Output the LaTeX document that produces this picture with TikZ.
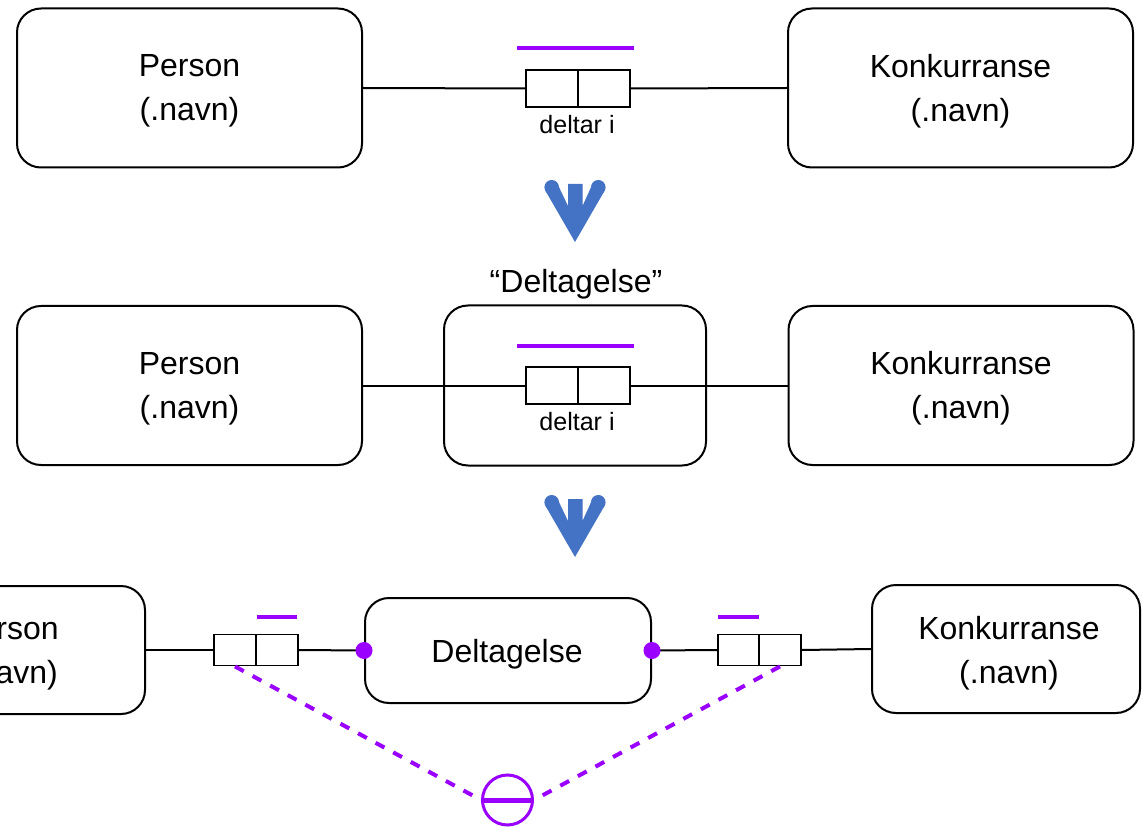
\documentclass[tikz,border=0pt]{standalone}
\usepackage{fontspec}
\setmainfont{Liberation Sans}
\definecolor{vio}{RGB}{153,0,255}
\definecolor{arrblue}{RGB}{68,114,196}
\begin{document}
\begin{tikzpicture}[x=0.75pt,y=-0.75pt,
  ent/.style={draw=black,line width=1.5pt,rounded corners=18pt,fill=white,inner sep=0pt},
  enttext/.style={align=center,font=\fontsize{24}{33}\selectfont,inner sep=0pt},
  rolecell/.style={draw=black,line width=1.4pt,inner sep=0pt,fill=white},
  bigrole/.style={rolecell,minimum width=39pt,minimum height=27.75pt},
  smallrole/.style={rolecell,minimum width=31.5pt,minimum height=23.25pt},
  conn/.style={line width=1.5pt},
  ubar/.style={fill=vio,inner sep=0pt,minimum height=3pt},
  rolelabel/.style={font=\fontsize{18.8}{22}\selectfont,inner sep=0pt},
  dot/.style={circle,fill=vio,inner sep=0pt,minimum size=12.75pt},
  subdash/.style={draw=vio,line width=3pt,dash pattern=on 7.5pt off 7.5pt},
  downarrow/.pic={
    \fill[arrblue] (-30,10) -- (0,62) -- (30,10) -- (17.5,4) -- (7.5,26) -- (7.5,4)
      -- (-7,4) -- (-7,26) -- (-17.5,4) -- cycle;
    \fill[arrblue] (-23.3,7.3) circle (7.3);
    \fill[arrblue] (23.3,7.3) circle (7.3);
  }]
\useasboundingbox (0,0) rectangle (1142,827);
\clip (0,0) rectangle (1142,827);

% ---------- row 1 ----------
\node[ent,minimum width=258.75pt,minimum height=119.25pt] (P1) at (189.5,88) {};
\node[enttext] (P1t) at (189.5,91) {Person\\(.navn)};
\node[ent,minimum width=258.75pt,minimum height=119.25pt] (K1) at (960.5,88) {};
\node[enttext] (K1t) at (960.5,91) {Konkurranse\\(.navn)};
\node[bigrole] (r1a) at (552,88.5) {};
\node[bigrole] (r1b) at (604,88.5) {};
\node[ubar,minimum width=87.75pt] (bar1) at (575.5,48) {};
\node[rolelabel] (lab1) at (577,125) {deltar i};
\draw[conn] (P1.east) -- (r1a.west);
\draw[conn] (r1b.east) -- (K1.west);

\pic at (575,180) {downarrow};

% ---------- row 2 ----------
\node[enttext] (title) at (576,284) {“Deltagelse”};
\node[ent,minimum width=258.75pt,minimum height=119.25pt] (P2) at (189.5,385.5) {};
\node[enttext] (P2t) at (189.5,388.5) {Person\\(.navn)};
\node[ent,minimum width=196.5pt,minimum height=120pt] (M2) at (575,385.5) {};
\node[ent,minimum width=258.75pt,minimum height=119.25pt] (K2) at (961,385.5) {};
\node[enttext] (K2t) at (961,388.5) {Konkurranse\\(.navn)};
\draw[conn] (P2.east) -- (M2.center) -- (K2.west);
\node[bigrole] (r2a) at (552,385.5) {};
\node[bigrole] (r2b) at (604,385.5) {};
\node[ubar,minimum width=87.75pt] (bar2) at (575.5,346) {};
\node[rolelabel] (lab2) at (577,422) {deltar i};

\pic at (575,495) {downarrow};

% ---------- row 3 ----------
\node[ent,minimum width=201pt,minimum height=96pt] (P3) at (11,650) {};
\node[enttext] (P3t) at (8,654) {Person\\(.navn)};
\node[ent,minimum width=214.5pt,minimum height=78.75pt] (D3) at (508,650.5) {};
\node[enttext] (D3t) at (507,654) {Deltagelse};
\node[ent,minimum width=201pt,minimum height=96pt] (K3) at (1006,649) {};
\node[enttext] (K3t) at (1009,653) {Konkurranse\\(.navn)};
\node[smallrole] (r3a) at (235,650) {};
\node[smallrole] (r3b) at (277,650) {};
\node[smallrole] (r3c) at (739,650) {};
\node[smallrole] (r3d) at (780,650) {};
\draw[conn] (P3.east) -- (r3a.west);
\draw[conn] (r3b.east) -- (D3.west);
\draw[conn] (D3.east) -- (r3c.west);
\draw[conn] (r3d.east) -- (K3.west);
\node[dot] (d1) at (D3.west) {};
\node[dot] (d2) at (D3.east) {};
\node[ubar,minimum width=30pt] (bar3) at (277,617) {};
\node[ubar,minimum width=30.75pt] (bar4) at (738.5,617) {};

\node[circle,draw=vio,line width=2.25pt,minimum size=37.5pt,inner sep=0pt] (xor) at (507.5,800) {};
\draw[vio,line width=3.75pt] (xor.west) -- (xor.east);
\draw[subdash] (r3a.south) -- (xor.west);
\draw[subdash] (r3d.south) -- (xor.east);
\end{tikzpicture}
\end{document}
